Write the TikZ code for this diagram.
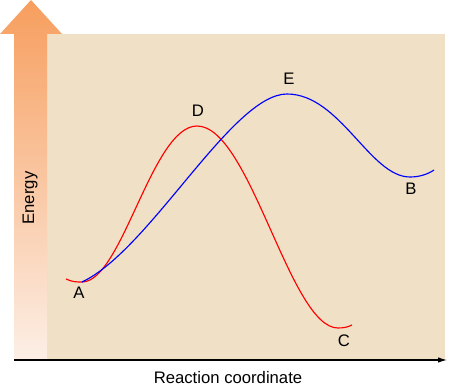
\documentclass[tikz,border=0pt]{standalone}
\usepackage{fontspec}
\setmainfont{Liberation Sans}
\usetikzlibrary{arrows.meta}
\definecolor{sand}{HTML}{EFE0C6}
\definecolor{peach}{HTML}{F79E5E}
\definecolor{pale}{HTML}{FCEFE6}
\tikzset{
  lab/.style={font=\fontsize{9.5}{11}\selectfont},
  path1/.style={red, line width=0.65pt},
  path2/.style={blue, line width=0.65pt}
}

\begin{document}
\begin{tikzpicture}[x=0.02cm, y=-0.02cm]
  \useasboundingbox (0, 0) rectangle (450, 385);
  \fill[sand] (47, 34) rectangle (445, 360);
  \shade[top color=peach, bottom color=pale] (14, 360) -- (14, 34) -- (0, 34) -- (31, 0) -- (62, 34) -- (47, 34) -- (47, 360) -- cycle;
  \coordinate (start) at (66, 279);
  \coordinate (A) at (82, 282);
  \coordinate (D) at (197, 126);
  \coordinate (C) at (338, 328);
  \coordinate (Cend) at (352, 325);
  \coordinate (E) at (287, 94);
  \coordinate (B) at (410, 177);
  \coordinate (Bend) at (434, 170);
  \coordinate (ax0) at (14, 360);
  \coordinate (ax1) at (447, 360);
  \draw[path1] (start) .. controls (72, 282) and (77, 282) .. (A)
    .. controls (122, 282) and (152, 126) .. (D)
    .. controls (250, 126) and (290, 328) .. (C)
    .. controls (344, 328) and (348, 327) .. (Cend);
  \draw[path2] (A) .. controls (150, 250) and (232, 94) .. (E)
    .. controls (340, 94) and (370, 177) .. (B)
    .. controls (420, 177) and (428, 174) .. (Bend);
  \draw[-{Latex[length=5pt, width=3pt]}, line width=0.6pt] (ax0) -- (ax1);
  \node[lab] (labA) at (79, 293) {A};
  \node[lab] (labD) at (198, 111) {D};
  \node[lab] (labE) at (289, 79) {E};
  \node[lab] (labC) at (344, 341) {C};
  \node[lab] (labB) at (411, 189) {B};
  \node[lab] (xlab) at (228, 378) {Reaction coordinate};
  \node[lab, rotate=90] (ylab) at (30, 198) {Energy};
\end{tikzpicture}
\end{document}
